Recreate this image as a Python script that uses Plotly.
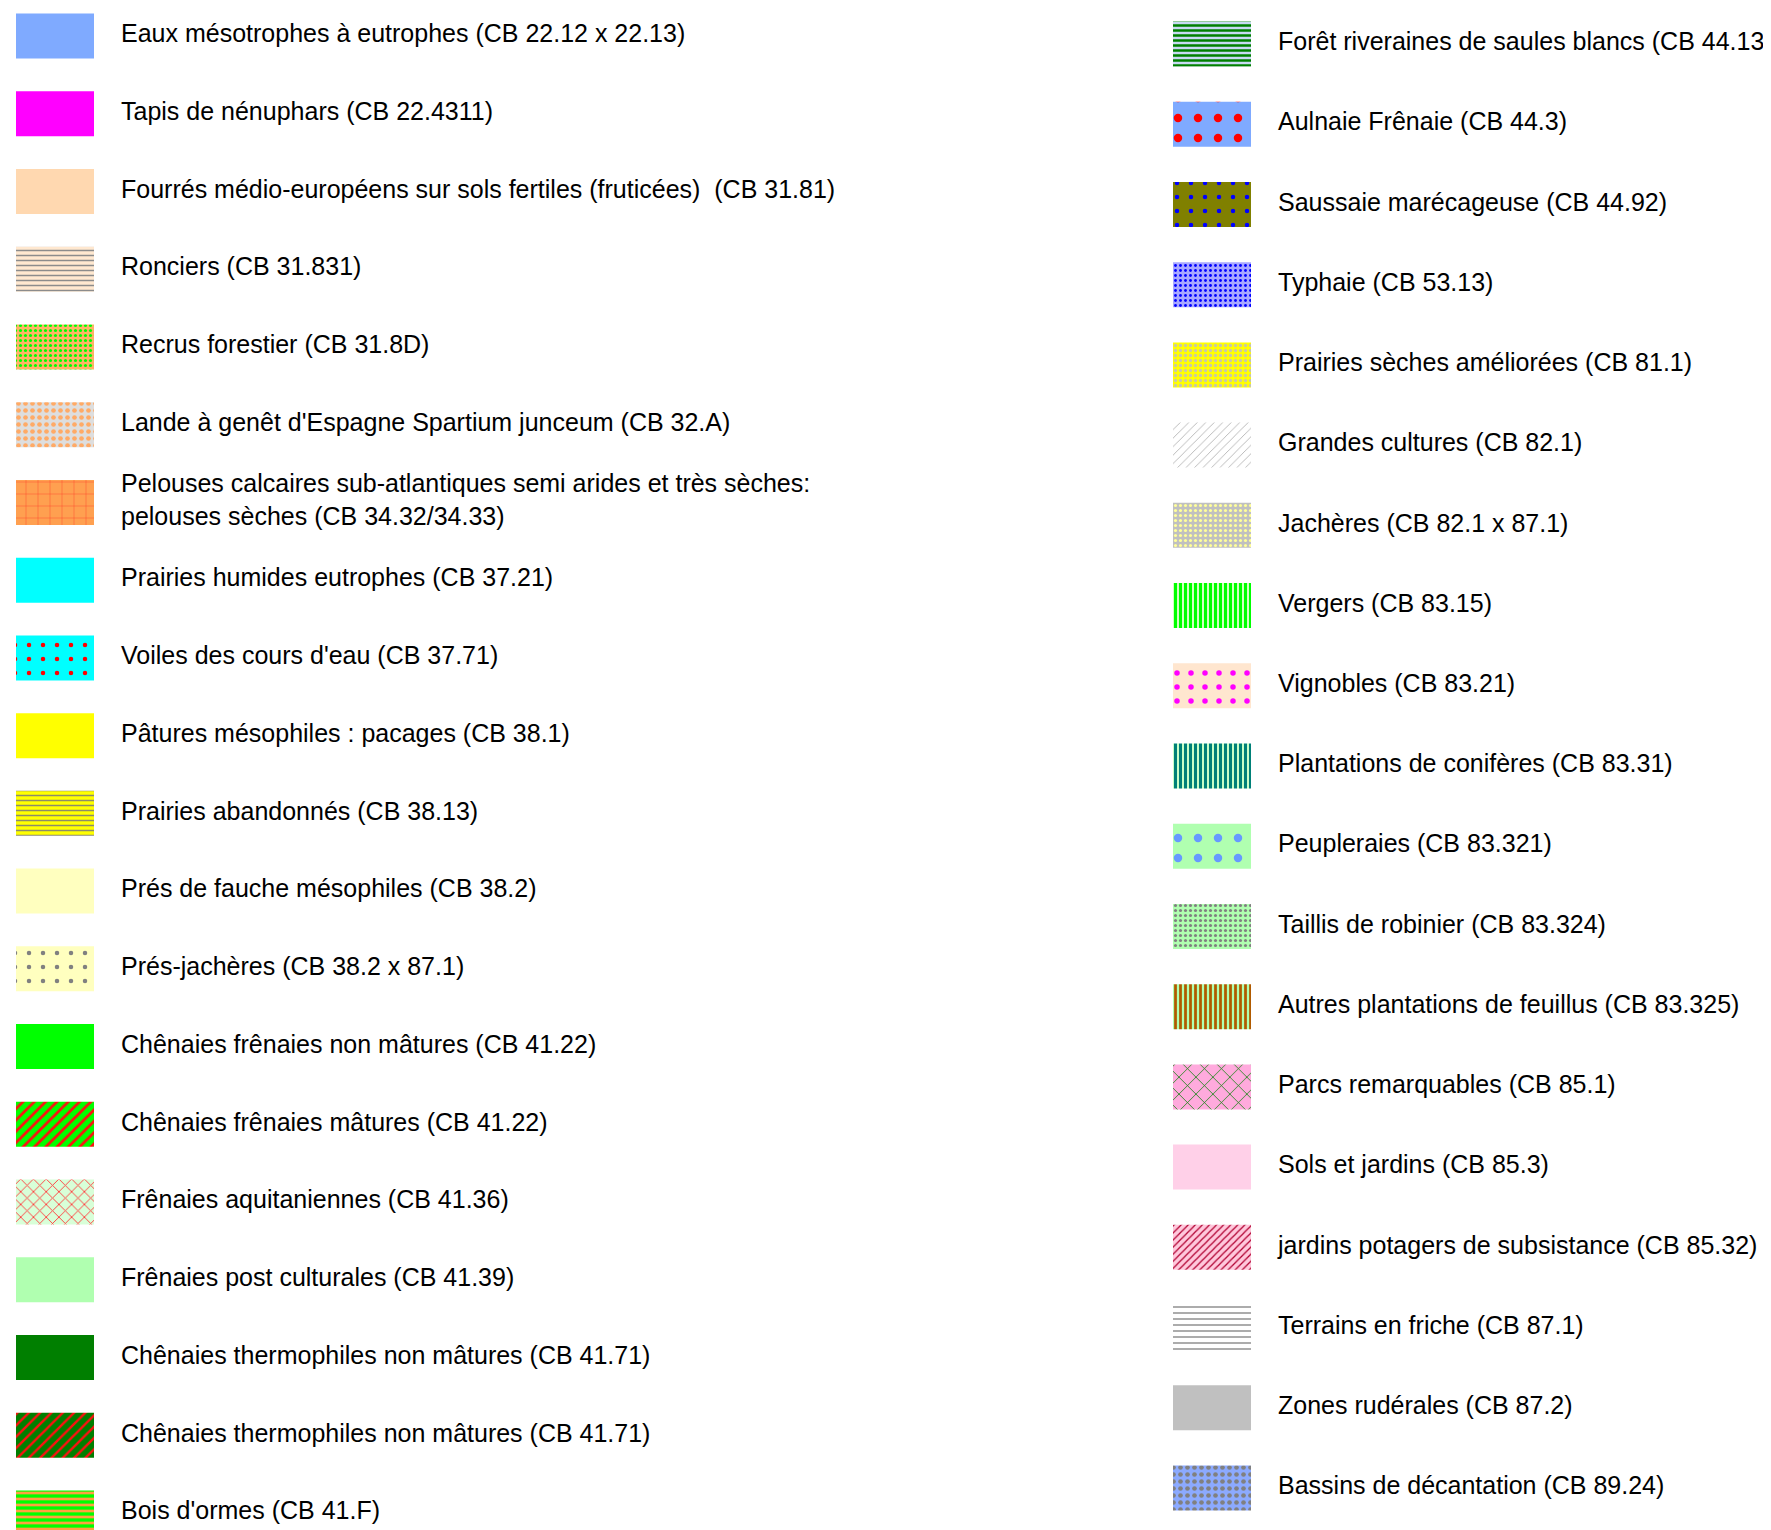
import plotly.graph_objects as go

# legend entries, left column
left_labels = [
    "Eaux mésotrophes à eutrophes (CB 22.12 x 22.13)",
    "Tapis de nénuphars (CB 22.4311)",
    "Fourrés médio-européens sur sols fertiles (fruticées)\u00a0 (CB 31.81)",
    "Ronciers (CB 31.831)",
    "Recrus forestier (CB 31.8D)",
    "Lande à genêt d'Espagne Spartium junceum (CB 32.A)",
    "Pelouses calcaires sub-atlantiques semi arides et très sèches:<br>pelouses sèches (CB 34.32/34.33)",
    "Prairies humides eutrophes (CB 37.21)",
    "Voiles des cours d'eau (CB 37.71)",
    "Pâtures mésophiles : pacages (CB 38.1)",
    "Prairies abandonnés (CB 38.13)",
    "Prés de fauche mésophiles (CB 38.2)",
    "Prés-jachères (CB 38.2 x 87.1)",
    "Chênaies frênaies non mâtures (CB 41.22)",
    "Chênaies frênaies mâtures (CB 41.22)",
    "Frênaies aquitaniennes (CB 41.36)",
    "Frênaies post culturales (CB 41.39)",
    "Chênaies thermophiles non mâtures (CB 41.71)",
    "Chênaies thermophiles non mâtures (CB 41.71)",
    "Bois d'ormes (CB 41.F)",
]

# legend entries, right column
right_labels = [
    "Forêt riveraines de saules blancs (CB 44.13)",
    "Aulnaie Frênaie (CB 44.3)",
    "Saussaie marécageuse (CB 44.92)",
    "Typhaie (CB 53.13)",
    "Prairies sèches améliorées (CB 81.1)",
    "Grandes cultures (CB 82.1)",
    "Jachères (CB 82.1 x 87.1)",
    "Vergers (CB 83.15)",
    "Vignobles (CB 83.21)",
    "Plantations de conifères (CB 83.31)",
    "Peupleraies (CB 83.321)",
    "Taillis de robinier (CB 83.324)",
    "Autres plantations de feuillus (CB 83.325)",
    "Parcs remarquables (CB 85.1)",
    "Sols et jardins (CB 85.3)",
    "jardins potagers de subsistance (CB 85.32)",
    "Terrains en friche (CB 87.1)",
    "Zones rudérales (CB 87.2)",
    "Bassins de décantation (CB 89.24)",
]

# swatch styles: (background, foreground, shape, size, solidity)
left_styles = [
    ("#7FAAFF", "#7FAAFF", "", 8, 0.3),
    ("#FF00FF", "#FF00FF", "", 8, 0.3),
    ("#FFD8B0", "#FFD8B0", "", 8, 0.3),
    ("#FFE8D0", "#8C8C8C", "-", 5, 0.3),
    ("#FFB366", "#00FF00", ".", 5, 0.3),
    ("#DEDEDE", "#FFAA66", ".", 7, 0.35),
    ("#FFA050", "#FF3020", "+", 12, 0.06),
    ("#00FFFF", "#00FFFF", "", 8, 0.3),
    ("#00FFFF", "#FF0000", ".", 14, 0.08),
    ("#FFFF00", "#FFFF00", "", 8, 0.3),
    ("#FFFF00", "#8C8C6A", "-", 5, 0.3),
    ("#FFFFBF", "#FFFFBF", "", 8, 0.3),
    ("#FFFFBF", "#808080", ".", 14, 0.08),
    ("#00FF00", "#00FF00", "", 8, 0.3),
    ("#00FF00", "#FF1010", "/", 8, 0.35),
    ("#D8FFD8", "#FF4040", "x", 9, 0.2),
    ("#B0FFB0", "#B0FFB0", "", 8, 0.3),
    ("#007F00", "#007F00", "", 8, 0.3),
    ("#007F00", "#FF1010", "/", 8, 0.3),
    ("#00FF00", "#FFA040", "-", 6, 0.45),
]

right_styles = [
    ("#C8DAF2", "#007F00", "-", 5, 0.5),
    ("#7FAAFF", "#FF0000", ".", 20, 0.14),
    ("#808000", "#0000FF", ".", 14, 0.08),
    ("#A8A8FF", "#0000FF", ".", 5, 0.25),
    ("#FFFF00", "#C8C8A8", ".", 5, 0.35),
    ("#FFFFFF", "#B4B4B4", "/", 6, 0.15),
    ("#C0C0C0", "#FFFF99", ".", 5, 0.3),
    ("#D2FFC0", "#00FF00", "|", 5, 0.6),
    ("#FFE6CF", "#FF00FF", ".", 14, 0.12),
    ("#C8FFC8", "#008078", "|", 5, 0.6),
    ("#B0FFB0", "#6699FF", ".", 20, 0.14),
    ("#B0FFB0", "#808080", ".", 5, 0.3),
    ("#B0FFB0", "#B05A00", "|", 5, 0.55),
    ("#FFAADD", "#008000", "x", 12, 0.12),
    ("#FFD0E8", "#FFD0E8", "", 8, 0.3),
    ("#FFC8DC", "#B00030", "/", 5, 0.25),
    ("#FFFFFF", "#909090", "-", 6, 0.25),
    ("#C0C0C0", "#C0C0C0", "", 8, 0.3),
    ("#8CAAFF", "#808080", ".", 7, 0.35),
]

W, H = 1771, 1530
# column layout in page pixels (page body has an 8px margin)
col_x = [8, 1165]
swatch_len = 78
text_gap = 27
swatch_h = 45
# first / last row centres of each column (pixels from top of figure)
col_rows = [(28, 1505), (36, 1480)]

fig = go.Figure()

for k, (labels, styles) in enumerate([(left_labels, left_styles), (right_labels, right_styles)]):
    n = len(labels)
    yref = "y" if k == 0 else "y2"
    top, bottom = col_rows[k]
    step = (bottom - top) / (n - 1)
    # one bar per swatch so each gets its own fill pattern
    for i, (bg, fg, shp, sz, sol) in enumerate(styles):
        fig.add_trace(go.Bar(
            x=[swatch_len], y=[i], base=col_x[k], orientation="h",
            width=swatch_h / step,
            marker=dict(color=bg, line=dict(width=0),
                        pattern=dict(shape=shp, fgcolor=fg, bgcolor=bg, size=sz,
                                     solidity=sol, fillmode="replace")),
            yaxis=yref, hoverinfo="skip", showlegend=False))
    fig.add_trace(go.Scatter(
        x=[col_x[k] + swatch_len + text_gap] * n, y=list(range(n)), text=labels,
        mode="text", textposition="middle right",
        textfont=dict(family="Liberation Sans, Arial, sans-serif", size=25, color="black"),
        yaxis=yref, hoverinfo="skip", showlegend=False, cliponaxis=False))
    # map row index to pixel position
    rng = [(H - top) / step, -top / step]
    axname = "yaxis" if k == 0 else "yaxis2"
    fig.update_layout(**{axname: dict(range=rng, visible=False, fixedrange=True,
                                      domain=[0, 1], anchor="x",
                                      overlaying=None if k == 0 else "y")})

fig.update_layout(
    width=W, height=H,
    margin=dict(l=0, r=0, t=0, b=0),
    xaxis=dict(range=[0, W], visible=False),
    plot_bgcolor="white", paper_bgcolor="white",
    barmode="overlay",
    showlegend=False,
)

fig.write_html("out.html")
